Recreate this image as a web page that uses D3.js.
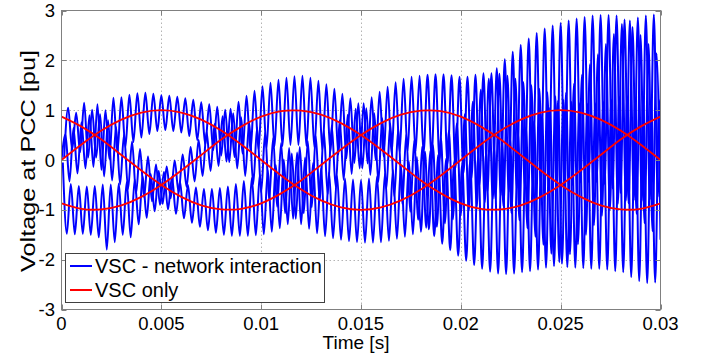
<!DOCTYPE html>
<html><head><meta charset="utf-8">
<script src="https://cdn.jsdelivr.net/npm/d3@7"></script>
<style>
body{margin:0;background:#fff}
svg{display:block}
text{font-family:Arial,"Liberation Sans",Helvetica,sans-serif;fill:#000}
</style>
</head><body>
<svg id="chart" width="712" height="353"></svg>
<script>
// ---------- data ----------
const xTicks = [0, 0.005, 0.01, 0.015, 0.02, 0.025, 0.03];
const xTickLabels = ["0", "0.005", "0.01", "0.015", "0.02", "0.025", "0.03"];
const yTicks = [-3, -2, -1, 0, 1, 2, 3];
const yTickLabels = ["-3", "-2", "-1", "0", "1", "2", "3"];
const seriesNames = ["VSC - network interaction", "VSC only"];
const xTitle = "Time [s]";
const yTitle = "Voltage at PCC [pu]";

const redTime = [0,0.001,0.002,0.003,0.004,0.005,0.006,0.007,0.008,0.009,0.010,0.011,0.012,0.013,0.014,0.015,0.016,0.017,0.018,0.019,0.020,0.021,0.022,0.023,0.024,0.025,0.026,0.027,0.028,0.029,0.030];
const redA = [0,.31,.59,.81,.95,1,.95,.81,.59,.31,0,-.31,-.59,-.81,-.95,-1,-.95,-.81,-.59,-.31,0,.31,.59,.81,.95,1,.95,.81,.59,.31,0];
const redB = [-.87,-.98,-.99,-.91,-.74,-.5,-.21,.10,.41,.67,.87,.98,.99,.91,.74,.5,.21,-.10,-.41,-.67,-.87,-.98,-.99,-.91,-.74,-.5,-.21,.10,.41,.67,.87];
const redC = [.87,.67,.41,.10,-.21,-.5,-.74,-.91,-.99,-.98,-.87,-.67,-.41,-.10,.21,.5,.74,.91,.99,.98,.87,.67,.41,.10,-.21,-.5,-.74,-.91,-.99,-.98,-.87];

// "VSC - network interaction" (blue) — peaks/troughs,
// sampled every 0.2 ms, each phase starting at its own first sample time
const blueStep = 0.0002;
const blueStart = [0, 0.0000667, 0.0001333];
const blueA = [0,
 .51,-.43, .64,-.27, .76,-.17, .90,-.14, 1.12,-.20, 1.00,.02, 1.25,.15, 1.26,.26, 1.31,.36, 1.34,.45,
 1.35,.52, 1.33,.58, 1.30,.60, 1.29,.58, 1.27,.55, 1.24,.48, 1.21,.40, 1.16,.31, 1.12,.20, 1.07,.09,
 1.01,-.04, .94,-.17, .86,-.32, .76,-.48, .65,-.65, .55,-.80, .44,-.94, .34,-1.07, .24,-1.18, .15,-1.29,
 .05,-1.38, -.06,-1.47, -.16,-1.53, -.25,-1.57, -.32,-1.60, -.37,-1.63, -.39,-1.65, -.40,-1.66, -.37,-1.66, -.33,-1.65,
 -.27,-1.62, -.20,-1.58, -.11,-1.54, -.03,-1.49, .06,-1.44, .17,-1.39, .30,-1.34, .44,-1.27, .58,-1.19, .73,-1.10,
 .92,-1.01, 1.17,-.93, 1.41,-.85, 1.63,-.78, 1.84,-.71, 2.02,-.64, 2.17,-.57, 2.31,-.53, 2.44,-.51, 2.55,-.50,
 2.64,-.53, 2.70,-.57, 2.75,-.56, 2.80,-.50, 2.84,-.45, 2.87,-.44, 2.90,-.44, 2.91,-.48, 2.91,-.57, 2.90,-.66,
 2.82,-.87, 2.67,-1.08, 2.51,-1.27, 2.33,-1.43, 2.14,-1.60];
const blueB = [-.05,
 -1.48,-.48, -1.49,-.52, -1.48,-.53, -1.50,-.52, -1.55,-.49, -1.80,-.49, -1.65,-.47, -1.50,-.44, -1.55,-.39, -1.29,-.33,
 -1.16,-.28, -1.03,-.22, -.88,-.13, -.77,-.01, -.65,.11, -.54,.26, -.43,.40, -.32,.56, -.22,.72, -.12,.88,
 -.03,1.03, .06,1.17, .13,1.29, .18,1.39, .21,1.48, .24,1.55, .27,1.61, .28,1.65, .30,1.68, .30,1.69,
 .28,1.65, .25,1.59, .20,1.52, .16,1.43, .11,1.33, .03,1.24, -.06,1.14, -.17,1.04, -.30,.94, -.44,.84,
 -.58,.73, -.73,.63, -.88,.51, -1.04,.39, -1.20,.27, -1.36,.18, -1.53,.10, -1.68,.03, -1.81,-.03, -1.92,-.08,
 -2.02,-.01, -2.11,.07, -2.18,.16, -2.24,.25, -2.28,.36, -2.29,.44, -2.28,.54, -2.25,.65, -2.23,.78, -2.20,.92,
 -2.16,1.05, -2.13,1.19, -2.08,1.35, -1.89,1.53, -1.69,1.71, -1.50,1.92, -1.31,2.12, -1.12,2.33, -1.00,2.53, -.88,2.73,
 -.82,2.80, -.81,2.86, -.82,2.90, -.79,2.92, -.74,2.93];
const blueC = [.05,
 1.05,.21, .95,.16, 1.15,.05, 1.01,.05, .92,-.33, .80,-.41, .66,-.49, .51,-.58, .37,-.67, .22,-.75,
 .07,-.83, -.09,-.90, -.24,-.99, -.34,-1.08, -.43,-1.17, -.50,-1.26, -.55,-1.34, -.58,-1.41, -.58,-1.46, -.56,-1.50,
 -.53,-1.52, -.48,-1.52, -.42,-1.52, -.36,-1.51, -.29,-1.49, -.20,-1.44, -.10,-1.37, .01,-1.29, .13,-1.18, .26,-1.07,
 .38,-.95, .48,-.83, .59,-.69, .69,-.54, .80,-.40, .91,-.28, 1.03,-.17, 1.14,-.07, 1.26,0, 1.37,.07,
 1.47,.12, 1.56,.16, 1.63,.18, 1.67,.17, 1.69,.15, 1.71,.09, 1.72,.01, 1.72,-.07, 1.70,-.16, 1.67,-.26,
 1.67,-.37, 1.71,-.50, 1.74,-.63, 1.74,-.78, 1.73,-.93, 1.69,-1.07, 1.63,-1.21, 1.56,-1.37, 1.50,-1.54, 1.43,-1.70,
 1.36,-1.88, 1.28,-2.05, 1.21,-2.15, 1.17,-2.16, 1.14,-2.17, 1.13,-2.18, 1.14,-2.18, 1.17,-2.20, 1.21,-2.23, 1.27,-2.25,
 1.28,-2.35, 1.25,-2.43, 1.23,-2.47, 1.21,-2.46, 1.20,-2.44];

// ---------- drawing ----------
const svg = d3.select("#chart");
const L = 61.5, R = 660.5, T = 10.5, B = 309.5;
const x = d3.scaleLinear().domain([0, 0.03]).range([L, R]);
const y = d3.scaleLinear().domain([-3, 3]).range([B, T]);

svg.append("rect").attr("width", 712).attr("height", 353).attr("fill", "#fff");

// grid
const grid = svg.append("g").attr("stroke", "#b4b4b4").attr("stroke-width", 1).attr("stroke-dasharray", "1.5,2.5");
grid.selectAll(".gx").data(xTicks.slice(1, -1)).join("line")
  .attr("x1", d => Math.round(x(d)) + 0.5).attr("x2", d => Math.round(x(d)) + 0.5)
  .attr("y1", T).attr("y2", B);
grid.selectAll(".gy").data(yTicks.slice(1, -1)).join("line")
  .attr("y1", d => Math.round(y(d)) + 0.5).attr("y2", d => Math.round(y(d)) + 0.5)
  .attr("x1", L).attr("x2", R);

svg.append("clipPath").attr("id", "clip").append("rect")
  .attr("x", L).attr("y", T).attr("width", R - L).attr("height", B - T);
const plot = svg.append("g").attr("clip-path", "url(#clip)");

const blueLine = (start) => d3.line()
  .x((d, i) => x(start + i * blueStep))
  .y(d => y(d))
  .curve(d3.curveMonotoneX);
[blueA, blueB, blueC].forEach((s, k) => {
  plot.append("path").datum(s).attr("d", blueLine(blueStart[k]))
    .attr("fill", "none").attr("stroke", "#0000ff").attr("stroke-width", 2)
    .attr("stroke-linejoin", "round");
});

const redLine = d3.line().x((d, i) => x(redTime[i])).y(d => y(d)).curve(d3.curveNatural);
[redA, redB, redC].forEach(s => {
  plot.append("path").datum(s).attr("d", redLine)
    .attr("fill", "none").attr("stroke", "#ff0000").attr("stroke-width", 1.8);
});

// frame
svg.append("rect").attr("x", L).attr("y", T).attr("width", R - L).attr("height", B - T)
  .attr("fill", "none").attr("stroke", "#808080").attr("stroke-width", 1);

// ticks (inward)
const tk = svg.append("g").attr("stroke", "#808080").attr("stroke-width", 1);
xTicks.forEach(d => {
  const xx = Math.round(x(d)) + 0.5;
  tk.append("line").attr("x1", xx).attr("x2", xx).attr("y1", B).attr("y2", B - 5);
  tk.append("line").attr("x1", xx).attr("x2", xx).attr("y1", T).attr("y2", T + 5);
});
yTicks.forEach(d => {
  const yy = Math.round(y(d)) + 0.5;
  tk.append("line").attr("x1", L).attr("x2", L + 5).attr("y1", yy).attr("y2", yy);
  tk.append("line").attr("x1", R).attr("x2", R - 5).attr("y1", yy).attr("y2", yy);
});

// tick labels
svg.append("g").selectAll("text").data(xTicks).join("text")
  .attr("x", d => x(d)).attr("y", 330).attr("text-anchor", "middle")
  .attr("font-size", 18.5).text((d, i) => xTickLabels[i]);
svg.append("g").selectAll("text").data(yTicks).join("text")
  .attr("x", 55).attr("y", d => y(d) + 6.5).attr("text-anchor", "end")
  .attr("font-size", 18.5).text((d, i) => yTickLabels[i]);

// axis titles
svg.append("text").attr("x", 356).attr("y", 349).attr("text-anchor", "middle")
  .attr("font-size", 19).text(xTitle);
svg.append("text").attr("transform", "translate(35,161) rotate(-90)")
  .attr("text-anchor", "middle").attr("font-size", 20)
  .attr("textLength", 222).attr("lengthAdjust", "spacingAndGlyphs").text(yTitle);

// legend
const lg = svg.append("g");
lg.append("rect").attr("x", 65.5).attr("y", 253.5).attr("width", 259).attr("height", 49)
  .attr("fill", "#fff").attr("stroke", "#404040").attr("stroke-width", 1);
const legendColors = ["#0000ff", "#ff0000"];
seriesNames.forEach((n, i) => {
  const yy = 266 + i * 24;
  lg.append("line").attr("x1", 70).attr("x2", 92).attr("y1", yy).attr("y2", yy)
    .attr("stroke", legendColors[i]).attr("stroke-width", 2);
  lg.append("text").attr("x", 95).attr("y", yy + 7).attr("font-size", 20).text(n);
});
</script>
</body></html>
